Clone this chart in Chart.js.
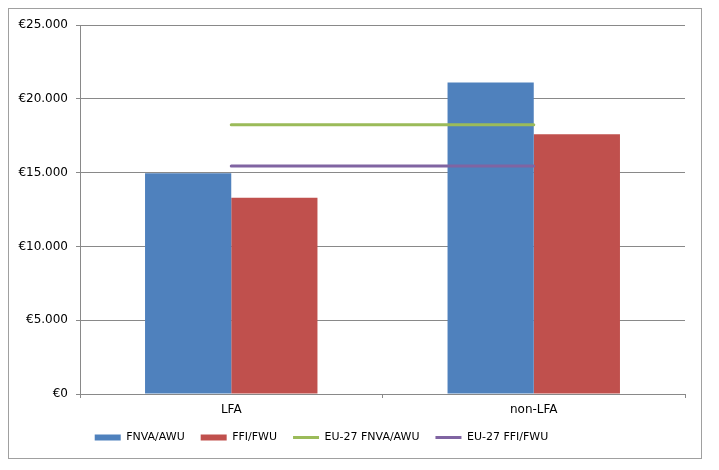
<!DOCTYPE html>
<html>
<head>
<meta charset="utf-8">
<script src="https://cdn.jsdelivr.net/npm/chart.js@4.4.1/dist/chart.umd.min.js"></script>
<style>
  html, body { margin: 0; padding: 0; background: #ffffff; }
  #wrap { position: relative; width: 719px; height: 470px; }
</style>
</head>
<body>
<div id="wrap"><canvas id="c" width="719" height="470"></canvas></div>
<script>
const categories = ['LFA', 'non-LFA'];
const fnvaAwu = [14950, 21100];
const ffiFwu = [13300, 17600];
const eu27FnvaAwu = [18250, 18250];
const eu27FfiFwu = [15450, 15450];
const seriesNames = ['FNVA/AWU', 'FFI/FWU', 'EU-27 FNVA/AWU', 'EU-27 FFI/FWU'];

const FONT = '"DejaVu Sans", Verdana, sans-serif';
const GRID = '#898989';

function euro(v) {
  return '€' + String(v).replace(/\B(?=(\d{3})+(?!\d))/g, '.');
}

const borderPlugin = {
  id: 'outerBorder',
  beforeDraw(chart) {
    const ctx = chart.ctx;
    ctx.save();
    ctx.fillStyle = '#ffffff';
    ctx.fillRect(0, 0, chart.width, chart.height);
    ctx.strokeStyle = '#a0a0a0';
    ctx.lineWidth = 1;
    ctx.strokeRect(8.5, 8.5, 693, 450);
    ctx.restore();
  }
};

const legendShift = {
  id: 'legendShift',
  afterLayout(chart) {
    const lg = chart.legend;
    if (lg) { lg.left -= 21; lg.right -= 21; }
  }
};

new Chart(document.getElementById('c'), {
  type: 'bar',
  data: {
    labels: categories,
    datasets: [
      { type: 'bar', label: seriesNames[0], data: fnvaAwu, backgroundColor: '#4F81BD', borderWidth: 0, order: 1,
        categoryPercentage: 0.57, barPercentage: 1.0 },
      { type: 'bar', label: seriesNames[1], data: ffiFwu, backgroundColor: '#C0504D', borderWidth: 0, order: 1,
        categoryPercentage: 0.57, barPercentage: 1.0 },
      { type: 'line', label: seriesNames[2], data: eu27FnvaAwu, borderColor: '#9BBB59', backgroundColor: '#9BBB59',
        borderWidth: 3, pointRadius: 0, borderCapStyle: 'round', order: 0 },
      { type: 'line', label: seriesNames[3], data: eu27FfiFwu, borderColor: '#8064A2', backgroundColor: '#8064A2',
        borderWidth: 3, pointRadius: 0, borderCapStyle: 'round', order: 0 }
    ]
  },
  options: {
    responsive: false,
    animation: false,
    devicePixelRatio: 1,
    layout: { padding: { left: 0, right: 34, top: 25, bottom: 17 } },
    scales: {
      x: {
        offset: true,
        grid: { display: true, drawOnChartArea: false, drawTicks: true, tickLength: 4, offset: true, color: GRID },
        border: { display: true, color: GRID, width: 1 },
        ticks: { color: '#000', font: { family: FONT, size: 12 }, padding: 5 },
        afterFit(s) { s.height = 22; }
      },
      y: {
        min: 0, max: 25000,
        grid: { color: GRID, lineWidth: 1, drawTicks: true, tickLength: 4 },
        border: { display: true, color: GRID, width: 1 },
        ticks: { stepSize: 5000, color: '#000', font: { family: FONT, size: 12 }, padding: 8,
          callback: (v) => euro(v) },
        afterFit(s) { s.width = 80; }
      }
    },
    plugins: {
      tooltip: { enabled: false },
      legend: {
        position: 'bottom',
        labels: {
          color: '#000',
          font: { family: FONT, size: 11 },
          usePointStyle: true,
          pointStyleWidth: 26,
          boxHeight: 6,
          padding: 16,
          sort: (a, b) => a.datasetIndex - b.datasetIndex,
          generateLabels(chart) {
            const items = Chart.defaults.plugins.legend.labels.generateLabels(chart);
            return items.map(it => {
              const ds = chart.data.datasets[it.datasetIndex];
              if (ds.type === 'line') {
                it.pointStyle = 'line';
                it.lineWidth = 3;
                it.strokeStyle = ds.borderColor;
                it.fillStyle = ds.borderColor;
              } else {
                it.pointStyle = 'rect';
                it.lineWidth = 0;
                it.fillStyle = ds.backgroundColor;
              }
              return it;
            });
          }
        }
      }
    }
  },
  plugins: [borderPlugin, legendShift]
});
</script>
</body>
</html>
